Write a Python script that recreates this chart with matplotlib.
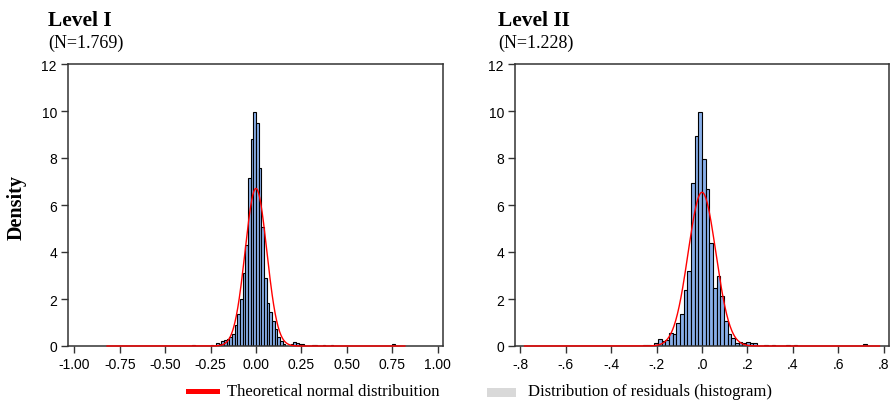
import numpy as np
import matplotlib
matplotlib.use("Agg")
import matplotlib.pyplot as plt
from matplotlib.lines import Line2D
from matplotlib.patches import Rectangle

# ---------------- data ----------------
titles = ["Level I", "Level II"]
subtitles = ["(N=1.769)", "(N=1.228)"]

left_bin_width = 0.0147
left_bins = [-24, -17, -15, -14, -13, -12, -11, -10, -9, -8, -7, -6, -5, -4, -3, -2, -1,
             0, 1, 2, 3, 4, 5, 6, 7, 8, 9, 10, 13, 14, 15, 16, 17, 21, 22, 25, 28, 51]
left_density = [0.05, 0.05, 0.14, 0.07, 0.23, 0.26, 0.31, 0.40, 0.50, 0.88, 1.38, 1.99, 3.12, 4.28, 7.13, 8.80, 9.97,
                 9.47, 7.56, 5.06, 2.90, 1.84, 1.46, 1.06, 0.71, 0.40, 0.21, 0.10, 0.10, 0.17, 0.12, 0.07, 0.08,
                 0.05, 0.05, 0.05, 0.05, 0.07]
left_mu, left_sigma = 0.0, 0.0595
left_curve_range = (-0.82, 0.82)
left_xticks = [-1.00, -0.75, -0.50, -0.25, 0.00, 0.25, 0.50, 0.75, 1.00]
left_xticklabels = ["-1.00", "-0.75", "-0.50", "-0.25", "0.00", "0.25", "0.50", "0.75", "1.00"]
left_xlim = (-1.035, 1.03)

right_bin_width = 0.0161
right_bins = [-16, -15, -13, -12, -11, -10, -9, -8, -7, -6, -5, -4, -3, -2, -1,
              0, 1, 2, 3, 4, 5, 6, 7, 8, 9, 10, 11, 12, 13, 14, 17, 19, 23, 25, 44]
right_density = [0.05, 0.06, 0.14, 0.28, 0.20, 0.24, 0.55, 0.52, 1.00, 1.38, 2.40, 3.19, 6.92, 8.94, 9.97,
                 7.97, 6.67, 4.40, 2.48, 2.98, 2.13, 1.06, 0.50, 0.33, 0.14, 0.18, 0.14, 0.18, 0.14, 0.14,
                 0.05, 0.05, 0.05, 0.05, 0.07]
right_mu, right_sigma = 0.0, 0.061
right_curve_range = (-0.78, 0.78)
right_xticks = [-0.8, -0.6, -0.4, -0.2, 0.0, 0.2, 0.4, 0.6, 0.8]
right_xticklabels = ["-.8", "-.6", "-.4", "-.2", ".0", ".2", ".4", ".6", ".8"]
right_xlim = (-0.822, 0.822)

yticks = [0, 2, 4, 6, 8, 10, 12]
ylabel = "Density"
legend_labels = ["Theoretical normal distribuition", "Distribution of residuals (histogram)"]

# ---------------- style ----------------
SERIF = ["Liberation Serif", "DejaVu Serif"]
SANS = ["Liberation Sans", "DejaVu Sans"]
BAR_COLOR = "#88AEE8"
SPINE = "#333333"

fig = plt.figure(figsize=(8.93, 4.02), dpi=100)
fig.patch.set_facecolor("white")

W, H = 893, 402
def ax_rect(x0, x1, ytop, ybot):
    return [x0 / W, 1 - ybot / H, (x1 - x0) / W, (ybot - ytop) / H]

panels = [
    dict(rect=ax_rect(68, 443, 65, 347), bins=left_bins, dens=left_density, w=left_bin_width,
         mu=left_mu, sigma=left_sigma, crange=left_curve_range, xt=left_xticks,
         xtl=left_xticklabels, xlim=left_xlim, tx=48),
    dict(rect=ax_rect(515, 889, 65, 347), bins=right_bins, dens=right_density, w=right_bin_width,
         mu=right_mu, sigma=right_sigma, crange=right_curve_range, xt=right_xticks,
         xtl=right_xticklabels, xlim=right_xlim, tx=498),
]

for i, p in enumerate(panels):
    ax = fig.add_axes(p["rect"])
    lefts = np.array(p["bins"]) * p["w"]
    ax.bar(lefts, p["dens"], width=p["w"], align="edge", color=BAR_COLOR,
           edgecolor="black", linewidth=0.8, zorder=2)
    xs = np.linspace(p["crange"][0], p["crange"][1], 600)
    pdf = np.exp(-0.5 * ((xs - p["mu"]) / p["sigma"]) ** 2) / (p["sigma"] * np.sqrt(2 * np.pi))
    ax.plot(xs, pdf, color="red", lw=1.0, zorder=4, clip_on=False)
    ax.set_xlim(*p["xlim"])
    ax.set_ylim(0, 12)
    ax.set_xticks(p["xt"])
    ax.set_xticklabels(p["xtl"], family=SANS, fontsize=10)
    ax.set_yticks(yticks)
    ax.set_yticklabels([str(v) for v in yticks], family=SANS, fontsize=10)
    ax.tick_params(direction="out", length=5, width=1, color=SPINE, pad=3)
    for s in ax.spines.values():
        s.set_color(SPINE)
        s.set_linewidth(1.1)
    ax.spines["bottom"].set_zorder(3)
    fig.text(p["tx"] / W, 1 - 26 / H, titles[i], family=SERIF, fontsize=15.5,
             fontweight="bold", ha="left", va="baseline")
    fig.text(p["tx"] / W, 1 - 47.5 / H, subtitles[i], family=SERIF, fontsize=13,
             ha="left", va="baseline")

fig.text(17 / W, 1 - 207 / H, ylabel, family=SERIF, fontsize=14.5, fontweight="bold",
         rotation=90, ha="center", va="center")

# legend
fig.add_artist(Line2D([188 / W, 217 / W], [1 - 392 / H, 1 - 392 / H], color="red", lw=3.6,
                      transform=fig.transFigure))
fig.text(227 / W, 1 - 392 / H, legend_labels[0], family=SERIF, fontsize=12, ha="left", va="center")
fig.add_artist(Rectangle((487 / W, 1 - 398 / H), 29 / W, 9 / H, facecolor="#D9D9D9",
                         edgecolor="none", transform=fig.transFigure))
fig.text(528 / W, 1 - 392 / H, legend_labels[1], family=SERIF, fontsize=12, ha="left", va="center")

fig.savefig("out.png", dpi=100)
